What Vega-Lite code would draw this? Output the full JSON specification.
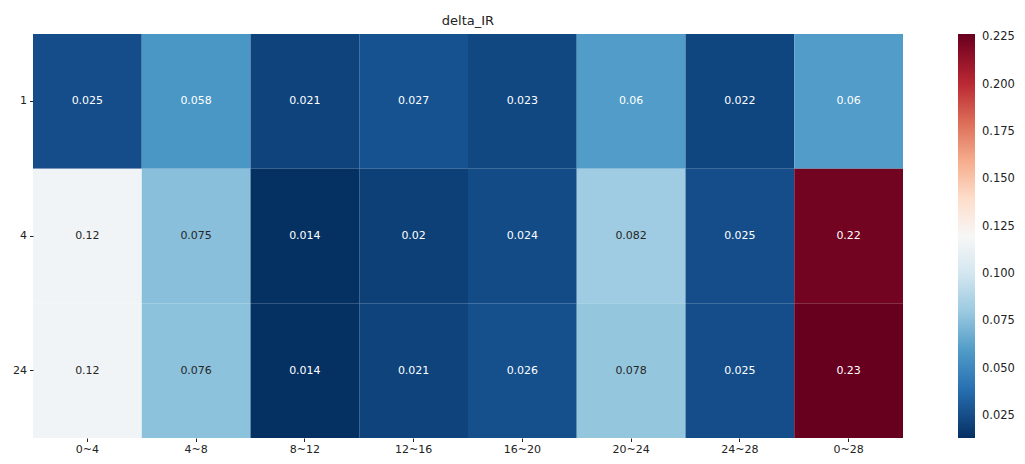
{
  "$schema": "https://vega.github.io/schema/vega-lite/v6.json",
  "width": 870,
  "height": 404,
  "autosize": {"type": "none"},
  "padding": {"left": 33, "top": 34, "right": 122, "bottom": 26},
  "background": "white",
  "config": {"view": {"stroke": null}, "font": "DejaVu Sans"},
  "title": {"text": "delta_IR", "fontSize": 13, "fontWeight": "normal", "color": "#222", "font": "DejaVu Sans", "offset": 6, "anchor": "middle", "frame": "group"},
  "data": {"values": [
    {"t": "1", "w": "0~4", "v": 0.025}, {"t": "1", "w": "4~8", "v": 0.058}, {"t": "1", "w": "8~12", "v": 0.021}, {"t": "1", "w": "12~16", "v": 0.027},
    {"t": "1", "w": "16~20", "v": 0.023}, {"t": "1", "w": "20~24", "v": 0.06}, {"t": "1", "w": "24~28", "v": 0.022}, {"t": "1", "w": "0~28", "v": 0.06},
    {"t": "4", "w": "0~4", "v": 0.117}, {"t": "4", "w": "4~8", "v": 0.075}, {"t": "4", "w": "8~12", "v": 0.0138}, {"t": "4", "w": "12~16", "v": 0.02},
    {"t": "4", "w": "16~20", "v": 0.024}, {"t": "4", "w": "20~24", "v": 0.082}, {"t": "4", "w": "24~28", "v": 0.025}, {"t": "4", "w": "0~28", "v": 0.2235},
    {"t": "24", "w": "0~4", "v": 0.117}, {"t": "24", "w": "4~8", "v": 0.076}, {"t": "24", "w": "8~12", "v": 0.0138}, {"t": "24", "w": "12~16", "v": 0.021},
    {"t": "24", "w": "16~20", "v": 0.026}, {"t": "24", "w": "20~24", "v": 0.078}, {"t": "24", "w": "24~28", "v": 0.025}, {"t": "24", "w": "0~28", "v": 0.2267}
  ]},
  "encoding": {
    "x": {"field": "w", "type": "ordinal", "sort": ["0~4", "4~8", "8~12", "12~16", "16~20", "20~24", "24~28", "0~28"],
      "scale": {"paddingInner": 0, "paddingOuter": 0},
      "axis": {"title": null, "labelAngle": 0, "domain": false, "tickSize": 3.5, "tickColor": "#222", "labelColor": "#222", "labelFontSize": 11, "labelPadding": 2, "labelFont": "DejaVu Sans"}},
    "y": {"field": "t", "type": "ordinal", "sort": ["1", "4", "24"],
      "scale": {"paddingInner": 0, "paddingOuter": 0},
      "axis": {"title": null, "domain": false, "tickSize": 3.5, "tickColor": "#222", "labelColor": "#222", "labelFontSize": 11, "labelPadding": 3, "labelFont": "DejaVu Sans"}}
  },
  "layer": [
    {"mark": {"type": "rect", "strokeWidth": 0},
     "encoding": {
       "color": {"field": "v", "type": "quantitative",
       "scale": {"domain": [0.0135, 0.03482, 0.05614, 0.07746, 0.09878, 0.1201, 0.14142, 0.16274, 0.18406, 0.20538, 0.2267],
                 "range": ["#053061", "#2166ac", "#4393c3", "#92c5de", "#d1e5f0", "#f7f7f7", "#fddbc7", "#f4a582", "#d6604d", "#b2182b", "#67001f"],
                 "interpolate": "rgb", "zero": false, "nice": false},
       "legend": {"title": null, "orient": "right", "offset": 55, "gradientLength": 404, "gradientThickness": 17,
         "values": [0.025, 0.05, 0.075, 0.1, 0.125, 0.15, 0.175, 0.2, 0.225], "format": ".3f",
         "labelFontSize": 11.5, "labelColor": "#222", "labelFont": "DejaVu Sans", "labelOffset": 7, "gradientStrokeWidth": 0}}}},
    {"mark": {"type": "text", "fontSize": 11, "font": "DejaVu Sans"},
     "encoding": {"text": {"field": "v", "type": "quantitative", "format": ".2~g"},
       "color": {"condition": {"test": "datum.v < 0.066 || datum.v > 0.19", "value": "white"}, "value": "#262626"}}}
  ]
}
